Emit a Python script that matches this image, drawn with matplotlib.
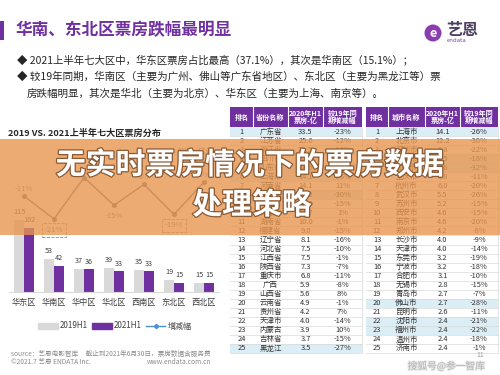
import matplotlib
matplotlib.use('Agg')
import matplotlib.pyplot as plt
import matplotlib.patheffects as pe
from matplotlib.patches import Rectangle, Circle, Patch
from matplotlib.lines import Line2D
import numpy as np

plt.rcParams['font.family'] = ['Noto Sans CJK SC', 'DejaVu Sans']

# ---------------- data ----------------
regions = ['华东区', '华南区', '华中区', '华北区', '西南区', '东北区', '西北区']
bo2019 = [115, 53, 37, 39, 35, 19, 15]
bo2021 = [102, 42, 36, 33, 33, 15, 15]
growth = [-11, -21, -3, -15, -6, -19, -5]

prov_names = ['广东省', '江苏省', '浙江省', '四川省', '山东省', '上海市', '河南省', '北京市',
              '湖北省', '安徽省', '湖南省', '福建省', '辽宁省', '河北省', '江西省', '陕西省',
              '重庆市', '广西', '山西省', '云南省', '贵州省', '天津市', '内蒙古', '吉林省', '黑龙江']
prov_bo = ['33.5', '25.6', '20.5', '15.4', '14.6', '14.1', '14.1', '12.2', '11.0', '10.7',
           '10.0', '9.0', '8.1', '7.5', '7.5', '7.3', '6.8', '5.9', '5.6', '4.9', '4.2',
           '4.0', '3.9', '3.7', '3.5']
prov_chg = ['-23%', '-12%', '-16%', '-10%', '-9%', '-26%', '11%', '-30%', '-15%', '1%',
            '-1%', '-15%', '-16%', '-10%', '-1%', '-7%', '-11%', '-8%', '8%', '-1%', '7%',
            '-14%', '10%', '-15%', '-27%']

city_names = ['上海市', '北京市', '深圳市', '广州市', '成都市', '重庆市', '杭州市', '武汉市',
              '苏州市', '西安市', '南京市', '郑州市', '长沙市', '天津市', '东莞市', '宁波市',
              '合肥市', '无锡市', '青岛市', '佛山市', '昆明市', '沈阳市', '福州市', '温州市', '济南市']
city_bo = ['14.1', '12.2', '8.8', '8.5', '7.6', '6.8', '6.0', '5.5', '5.2', '4.6', '4.6',
           '4.2', '4.0', '4.0', '3.2', '3.2', '3.1', '2.8', '2.7', '2.7', '2.6', '2.4',
           '2.4', '2.4', '2.4']
city_chg = ['-26%', '-30%', '-22%', '-18%', '-32%', '-11%', '-20%', '-26%', '-15%', '-15%',
            '-20%', '-8%', '-9%', '-14%', '-19%', '-18%', '-10%', '-15%', '-7%', '-28%',
            '-11%', '-21%', '-22%', '-18%', '-1%']

prov_headers = ['排名', '省份名称', '2020年H1\n票房-亿', '较19年同\n期增减幅']
city_headers = ['排名', '城市名称', '2020年H1\n票房-亿', '较19年同\n期增减幅']
prov_highlight = [0, 4, 5, 7, 24]
city_highlight = [0, 3, 4, 19, 21, 22]

PURPLE = '#7030A0'

fig = plt.figure(figsize=(5, 3.75), dpi=100)
fig.patch.set_facecolor('white')

# ------------- background axes (pixel coords) -------------
ax0 = fig.add_axes([0, 0, 1, 1])
ax0.set_xlim(0, 500)
ax0.set_ylim(375, 0)
ax0.axis('off')

ax0.add_patch(Rectangle((0, 21), 4, 19, color=PURPLE, lw=0))
ax0.text(16, 30, '华南、东北区票房跌幅最明显', fontsize=12, fontweight='bold',
         color=PURPLE, va='center', ha='left')

# logo
ax0.add_patch(Circle((433, 33), 8.5, color='#8A3DB0', lw=0))
ax0.text(433, 33.5, 'e', fontsize=9, fontweight='bold', color='white', ha='center', va='center')
ax0.text(446, 30.5, '艺恩', fontsize=11.5, fontweight='bold', color='#4E4060', ha='left', va='center')
ax0.text(447, 40.5, 'endata', fontsize=4.3, color='#8A3DB0', ha='left', va='center')

txtc = '#262626'
ax0.text(17, 61, '◆ 2021上半年七大区中，华东区票房占比最高（37.1%），其次是华南区（15.1%）；',
         fontsize=7.5, color=txtc, va='center', ha='left')
ax0.text(17, 77, '◆ 较19年同期，华南区（主要为广州、佛山等广东省地区）、东北区（主要为黑龙江等）票',
         fontsize=7.6, color=txtc, va='center', ha='left')
ax0.text(27, 94, '房跌幅明显，其次是华北（主要为北京）、华东区（主要为上海、南京等）。',
         fontsize=7.6, color=txtc, va='center', ha='left')

ax0.text(8, 133, '2019 VS. 2021上半年七大区票房分布', fontsize=6.6, fontweight='bold',
         color=txtc, va='center', ha='left')
ax0.text(177, 152, '单位：亿元', fontsize=5.3, color='#595959', va='center', ha='left')

ax0.text(11, 354, 'source：艺恩电影智库     截止到2021年6月30日，票房数据含服务费',
         fontsize=4.8, color='#8C8C8C', va='center', ha='left')
ax0.text(11, 362, '©2021.7 艺恩 ENDATA Inc.', fontsize=4.8, color='#8C8C8C', va='center', ha='left')
ax0.text(147, 362, 'www.endata.com.cn', fontsize=4.8, color='#8C8C8C', va='center', ha='left')


def draw_table(edges, headers, names, vals, chgs, highlight):
    top, hh, rh = 107, 20, 9.04
    x0, x1 = edges[0], edges[-1]
    ax0.add_patch(Rectangle((x0, top), x1 - x0, hh, color=PURPLE, lw=0))
    for j, h in enumerate(headers):
        cx = (edges[j] + edges[j + 1]) / 2
        ax0.text(cx, top + hh / 2, h, fontsize=5.1, color='white', fontweight='bold',
                 ha='center', va='center', linespacing=0.95)
        if j > 0:
            ax0.plot([edges[j], edges[j]], [top, top + hh], color='white', lw=0.8)
    for i in range(len(names)):
        y = top + hh + i * rh
        if i in highlight:
            ax0.add_patch(Rectangle((x0, y), x1 - x0, rh, color='#DCEEF5', lw=0))
        ax0.plot([x0, x1], [y + rh, y + rh], color='#D9D9D9', lw=0.5)
        cells = [str(i + 1), names[i], vals[i], chgs[i]]
        for j, c in enumerate(cells):
            cx = (edges[j] + edges[j + 1]) / 2
            ax0.text(cx, y + rh / 2, c, fontsize=5.4, color='#333333', ha='center', va='center')
    ax0.plot([x1, x1], [top + hh, top + hh + len(names) * rh], color='#D9D9D9', lw=0.5)


draw_table([230, 253, 288, 323, 362], prov_headers, prov_names, prov_bo, prov_chg, prov_highlight)
draw_table([366, 388, 425, 460, 498], city_headers, city_names, city_bo, city_chg, city_highlight)

wm = [pe.withStroke(linewidth=1.2, foreground='#E6E6E6')]
ax0.text(485, 366, '搜狐号@参一智库', fontsize=7, color='#B5B5B5', ha='right', va='center',
         path_effects=wm)
ax0.text(484, 355, '11', fontsize=5, color='#9A9A9A', ha='right', va='center')

# ------------- bar chart -------------
ax = fig.add_axes([9 / 500, 83 / 375, 210 / 500, 152 / 375])
ax.patch.set_alpha(0)
x = np.arange(len(regions))
w = 0.33
ax.bar(x - w / 2, bo2019, w, color='#D9D9D9', zorder=2)
ax.bar(x + w / 2, bo2021, w, color=PURPLE, zorder=2)
for xi, a, b in zip(x, bo2019, bo2021):
    ax.text(xi - w / 2, a + 6, str(a), ha='center', va='bottom', fontsize=5.2, color='#404040')
    ax.text(xi + w / 2, b + 6, str(b), ha='center', va='bottom', fontsize=5.2, color='#404040')
ax.set_xlim(-0.5, 6.5)
ax.set_ylim(0, 243)
ax.set_xticks(x)
ax.set_xticklabels(regions, fontsize=5.9, color='#404040')
ax.tick_params(axis='x', length=0, pad=4)
ax.set_yticks([])
for s in ['top', 'left', 'right']:
    ax.spines[s].set_visible(False)
ax.spines['bottom'].set_color('#D9D9D9')
ax.spines['bottom'].set_linewidth(0.8)

ax2 = ax.twinx()
ax2.set_ylim(-52.7, 13.3)
ax2.plot(x, growth, color='#6E6E6E', lw=1, marker='o', ms=2.6, zorder=3)
ax2.set_yticks([])
for s in ax2.spines.values():
    s.set_visible(False)
boxed = [-21, -19]
for xi, g in zip(x, growth):
    below = g in (-21, -15, -19)
    off = -11 if below else 7
    bbox = dict(boxstyle='square,pad=0.35', fc='none', ec='#8C8C8C', ls='--', lw=0.6) if g in boxed else None
    ax2.annotate(f'{g}%', (xi, g), xytext=(0, off), textcoords='offset pixels',
                 ha='center', va='center', fontsize=5.6, color='#7F7F7F', bbox=bbox)

handles = [Patch(color='#D9D9D9'), Patch(color=PURPLE),
           Line2D([0], [0], color='#4A90D9', lw=1, marker='D', ms=2.2)]
fig.legend(handles, ['2019H1', '2021H1', '增减幅'], loc='center',
           bbox_to_anchor=(115 / 500, 1 - 326 / 375), ncol=3, frameon=False,
           fontsize=5.8, handlelength=2.4, handleheight=0.8, handletextpad=0.3,
           columnspacing=0.5, labelcolor='#404040')

# ------------- overlay banner -------------
ov = fig.add_axes([0, 0, 1, 1], zorder=10)
ov.set_xlim(0, 500)
ov.set_ylim(375, 0)
ov.axis('off')
ov.patch.set_alpha(0)
ov.add_patch(Rectangle((0, 139), 500, 96, color='#E8964F', alpha=0.8, lw=0))
eff = [pe.withStroke(linewidth=1.8, foreground='#8A5A35')]
ov.text(250, 165, '无实时票房情况下的票房数据', fontsize=21.5, fontweight='bold', color='white',
        ha='center', va='center', path_effects=eff)
ov.text(252, 205, '处理策略', fontsize=21.5, fontweight='bold', color='white',
        ha='center', va='center', path_effects=eff)

fig.savefig('out.png', dpi=100)
